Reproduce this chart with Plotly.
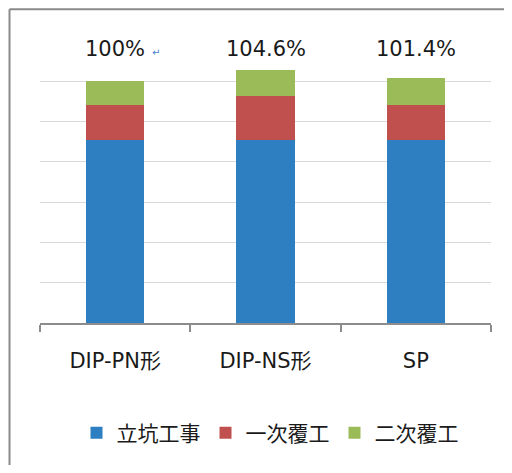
import plotly.graph_objects as go

categories = ["DIP-PN形", "DIP-NS形", "SP"]
shaft_work = [4.54, 4.54, 4.54]
primary_lining = [0.87, 1.09, 0.87]
secondary_lining = [0.59, 0.65, 0.67]
ratio_labels = ["100%", "104.6%", "101.4%"]
series_names = ["立坑工事", "一次覆工", "二次覆工"]
colors = ["#2E7FC1", "#C0504D", "#9BBB59"]

FONT = "DejaVu Sans, Noto Sans CJK JP, sans-serif"

fig = go.Figure()
for name, vals, c in zip(series_names, [shaft_work, primary_lining, secondary_lining], colors):
    fig.add_bar(x=categories, y=vals, name=name, marker_color=c,
                marker_line_width=0, width=0.39)

for cat, lab in zip(categories, ratio_labels):
    fig.add_annotation(x=cat, y=6.8, text=lab, showarrow=False,
                       font=dict(family=FONT, size=21, color="#1a1a1a"))
fig.add_annotation(x=categories[0], y=6.72, text="↵", showarrow=False, xshift=41,
                   font=dict(family=FONT, size=10, color="#4a7fd0"))

# outer chart border (left and top edges visible in the reference)
border = dict(color="#8a8a8a", width=2)
fig.add_shape(type="line", xref="paper", yref="paper",
              x0=-0.0676, x1=-0.0676, y0=-0.6, y1=1.113, line=border)
fig.add_shape(type="line", xref="paper", yref="paper",
              x0=-0.0676, x1=1.1, y0=1.113, y1=1.113, line=border)

fig.update_layout(
    width=496, height=457,
    margin=dict(l=32, r=13, t=33, b=142),
    paper_bgcolor="white", plot_bgcolor="white",
    barmode="stack",
    font=dict(family=FONT, size=20, color="#1a1a1a"),
    showlegend=True,
    legend=dict(orientation="h", x=0.51, xanchor="center", y=-0.39, yanchor="middle",
                font=dict(family=FONT, size=21), traceorder="normal"),
    xaxis=dict(showline=True, linecolor="#8c8c8c", linewidth=1.5,
               ticks="outside", tickson="boundaries", ticklen=7,
               tickcolor="#8c8c8c", tickwidth=1.5,
               ticklabelstandoff=18,
               tickfont=dict(family=FONT, size=21, color="#1a1a1a"),
               showgrid=False, fixedrange=True),
    yaxis=dict(range=[0, 7], dtick=1, showticklabels=False,
               gridcolor="#d9d9d9", gridwidth=1, zeroline=False, fixedrange=True),
)

fig.write_html("out.html")
